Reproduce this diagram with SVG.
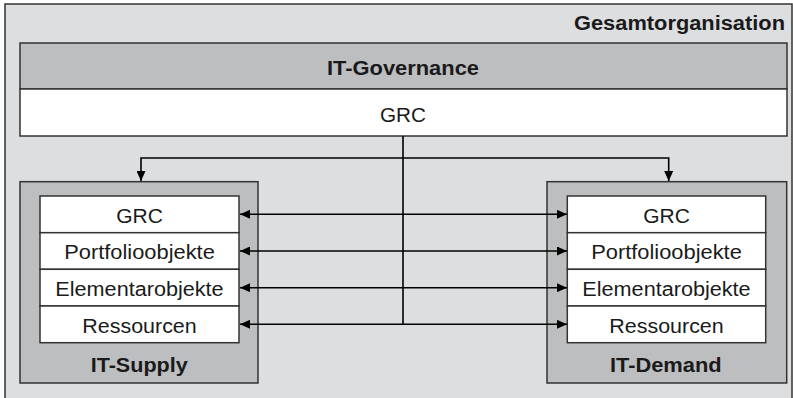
<svg xmlns="http://www.w3.org/2000/svg" width="793" height="398" viewBox="0 0 793 398">
<style>
text{font-family:"Liberation Sans",Arial,sans-serif;fill:#1a1a1a}
.b{font-weight:bold;font-size:19.5px}
.n{font-size:20px}
.outer{fill:#dddee0;stroke:#333;stroke-width:1.5}
.grey{fill:#bdbec0;stroke:#333;stroke-width:1.5}
.white{fill:#fff;stroke:#333;stroke-width:1.5}
.con{fill:none;stroke:#000;stroke-width:1.6}
</style>
<defs>
<marker id="ah" viewBox="0 0 10 9" refX="10" refY="4.5" markerWidth="10" markerHeight="9" markerUnits="userSpaceOnUse" orient="auto-start-reverse">
<path d="M0,0 L10,4.5 L0,9 z" fill="#000"/>
</marker>
</defs>
<g id="gesamtorganisation">
<rect class="outer" x="5" y="4" width="787" height="400"/>
<text class="b" x="574" y="29.5" textLength="211" lengthAdjust="spacingAndGlyphs">Gesamtorganisation</text>
</g>
<g id="it-governance">
<rect class="grey" x="20" y="43" width="767" height="46"/>
<rect class="white" x="20" y="89" width="767" height="47"/>
<text class="b" x="403" y="75" text-anchor="middle" textLength="152" lengthAdjust="spacingAndGlyphs">IT-Governance</text>
<text class="n" x="403" y="121.5" text-anchor="middle" textLength="46" lengthAdjust="spacingAndGlyphs" style="font-size:20.5px">GRC</text>
</g>
<g id="it-supply">
<rect class="grey" x="20" y="181.7" width="238" height="201.3"/>
<rect class="white" x="40" y="196" width="199" height="36.7"/>
<rect class="white" x="40" y="232.7" width="199" height="36.6"/>
<rect class="white" x="40" y="269.3" width="199" height="36.7"/>
<rect class="white" x="40" y="306" width="199" height="36.7"/>
<text class="n" x="139.5" y="222.7" text-anchor="middle" textLength="46.7" lengthAdjust="spacingAndGlyphs">GRC</text>
<text class="n" x="139.5" y="259.4" text-anchor="middle" textLength="150.7" lengthAdjust="spacingAndGlyphs">Portfolioobjekte</text>
<text class="n" x="139.5" y="296" text-anchor="middle" textLength="168.3" lengthAdjust="spacingAndGlyphs">Elementarobjekte</text>
<text class="n" x="139.5" y="332.7" text-anchor="middle" textLength="114.4" lengthAdjust="spacingAndGlyphs">Ressourcen</text>
<text class="b" x="139.2" y="371.7" text-anchor="middle" textLength="97" lengthAdjust="spacingAndGlyphs" style="font-size:20px">IT-Supply</text>
</g>
<g id="it-demand">
<rect class="grey" x="547" y="181.7" width="239.7" height="201.3"/>
<rect class="white" x="567.3" y="196" width="198.4" height="36.7"/>
<rect class="white" x="567.3" y="232.7" width="198.4" height="36.6"/>
<rect class="white" x="567.3" y="269.3" width="198.4" height="36.7"/>
<rect class="white" x="567.3" y="306" width="198.4" height="36.7"/>
<text class="n" x="666.5" y="222.7" text-anchor="middle" textLength="46.7" lengthAdjust="spacingAndGlyphs">GRC</text>
<text class="n" x="666.5" y="259.4" text-anchor="middle" textLength="150.7" lengthAdjust="spacingAndGlyphs">Portfolioobjekte</text>
<text class="n" x="666.5" y="296" text-anchor="middle" textLength="168.3" lengthAdjust="spacingAndGlyphs">Elementarobjekte</text>
<text class="n" x="666.5" y="332.7" text-anchor="middle" textLength="114.4" lengthAdjust="spacingAndGlyphs">Ressourcen</text>
<text class="b" x="665.8" y="371.7" text-anchor="middle" textLength="111.7" lengthAdjust="spacingAndGlyphs" style="font-size:20px">IT-Demand</text>
</g>
<g id="connectors">
<path class="con" d="M403,136 V324.3"/>
<path class="con" d="M141,181 V158 H668.7 V181" marker-start="url(#ah)" marker-end="url(#ah)"/>
<path class="con" d="M240,214.3 H567" marker-start="url(#ah)" marker-end="url(#ah)"/>
<path class="con" d="M240,251 H567" marker-start="url(#ah)" marker-end="url(#ah)"/>
<path class="con" d="M240,287.7 H567" marker-start="url(#ah)" marker-end="url(#ah)"/>
<path class="con" d="M240,324.3 H567" marker-start="url(#ah)" marker-end="url(#ah)"/>
</g>
</svg>
